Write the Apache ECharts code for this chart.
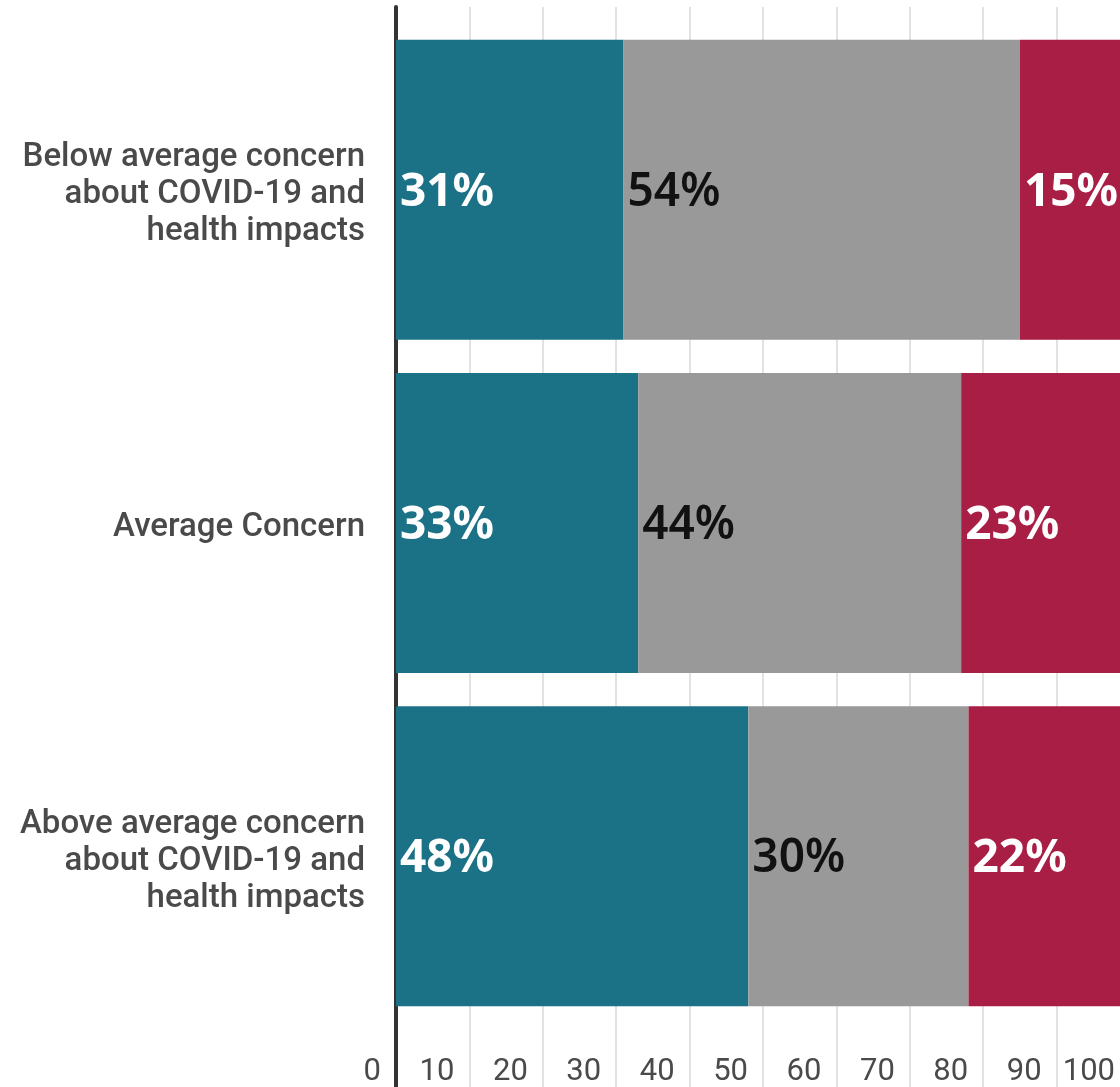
<!DOCTYPE html>
<html>
<head>
<meta charset="utf-8">
<script src="https://cdn.jsdelivr.net/npm/echarts@6/dist/echarts.min.js"></script>
<style>
html,body{margin:0;padding:0;background:#fff;}
#chart{width:1120px;height:1087px;}
</style>
</head>
<body>
<div id="chart"></div>
<script>
const categories = [
  "Below average concern\nabout COVID-19 and\nhealth impacts",
  "Average Concern",
  "Above average concern\nabout COVID-19 and\nhealth impacts"
];
const seriesTeal = [31, 33, 48];
const seriesGray = [54, 44, 30];
const seriesRed = [15, 23, 22];
const xMin = 0, xMax = 100, xStep = 10;

const chart = echarts.init(document.getElementById('chart'), null, {renderer: 'canvas'});

function barLabel(color, weight) {
  return {
    show: true,
    position: 'insideLeft',
    distance: 4,
    formatter: '{s| }\n{c}%',
    color: color,
    fontFamily: 'Noto Sans',
    fontWeight: weight,
    fontSize: 46,
    lineHeight: 50,
    rich: {s: {fontSize: 1, lineHeight: 6}}
  };
}

const option = {
  backgroundColor: '#ffffff',
  animation: false,
  grid: [
    {left: 396, width: 734, top: 7, bottom: 0, outerBoundsMode: 'none', containLabel: false},
    {left: 396, width: 734, top: 23, height: 1000, outerBoundsMode: 'none', containLabel: false}
  ],
  xAxis: [
    {
      gridIndex: 0, type: 'value', min: xMin, max: xMax, interval: xStep,
      position: 'bottom',
      axisLine: {show: false}, axisTick: {show: false},
      splitLine: {show: true, lineStyle: {color: '#e2e2e2', width: 2}},
      axisLabel: {
        show: true, inside: true, margin: 0,
        align: 'right', padding: [0, 15, 0, 0],
        color: '#4a4a4a', fontFamily: 'Roboto', fontSize: 31, lineHeight: 30
      }
    },
    {
      gridIndex: 1, type: 'value', min: xMin, max: xMax,
      show: false, splitLine: {show: false}
    }
  ],
  yAxis: [
    {
      gridIndex: 0, type: 'category', data: [''], offset: 2,
      axisLine: {show: true, lineStyle: {color: '#333333', width: 4}},
      axisTick: {show: false}, axisLabel: {show: false}, splitLine: {show: false}
    },
    {
      gridIndex: 1, type: 'category', data: categories, inverse: true,
      axisLine: {show: false}, axisTick: {show: false},
      axisLabel: {
        show: true, margin: 31, align: 'right',
        formatter: function (v) { return '{s| }\n' + v; },
        rich: {s: {fontSize: 1, lineHeight: 10}},
        color: '#4a4a4a', fontFamily: 'Roboto', fontWeight: 500, fontSize: 33, lineHeight: 37
      }
    }
  ],
  series: [
    {
      type: 'bar', stack: 'total', xAxisIndex: 1, yAxisIndex: 1,
      data: seriesTeal, barCategoryGap: '10%',
      itemStyle: {color: '#1b7286'},
      label: barLabel('#ffffff', 'bold')
    },
    {
      type: 'bar', stack: 'total', xAxisIndex: 1, yAxisIndex: 1,
      data: seriesGray, barCategoryGap: '10%',
      itemStyle: {color: '#999999'},
      label: barLabel('#111111', 600)
    },
    {
      type: 'bar', stack: 'total', xAxisIndex: 1, yAxisIndex: 1,
      data: seriesRed, barCategoryGap: '10%',
      itemStyle: {color: '#a91e45'},
      label: barLabel('#ffffff', 'bold')
    }
  ]
};
chart.setOption(option);
</script>
</body>
</html>
